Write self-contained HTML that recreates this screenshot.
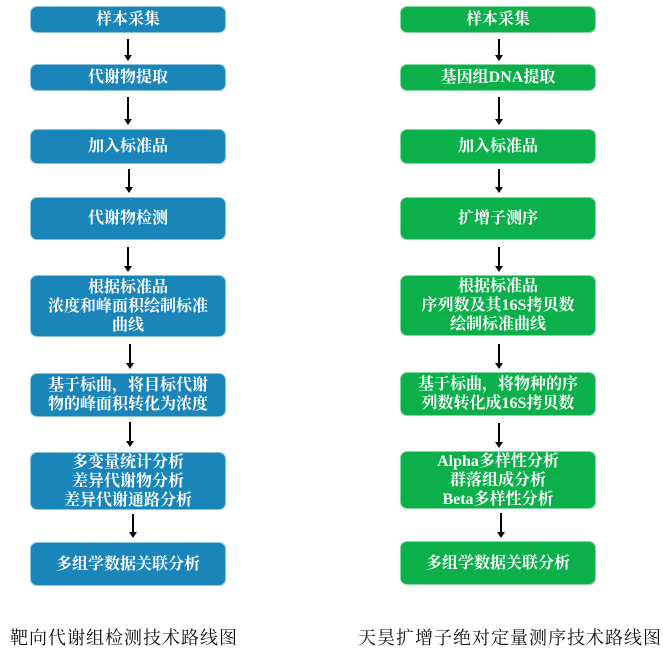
<!DOCTYPE html>
<html><head><meta charset="utf-8"><style>
body{margin:0;width:663px;height:654px;background:#fff;position:relative;overflow:hidden;font-family:"Liberation Serif","Noto Serif CJK SC",serif;}
.b{position:absolute;border-radius:7px;color:#fff;font-size:16px;line-height:19px;display:flex;align-items:center;justify-content:center;text-align:center;font-weight:bold;box-sizing:border-box;border:1px solid rgba(255,255,255,.5)}
.l{left:30px;width:196px;background:#1a85b8}
.r{left:400px;width:196px;background:#0cb04a}
.a{position:absolute;width:2px;background:#000}
.a:after{content:"";position:absolute;left:-3px;bottom:-5px;border-left:4px solid transparent;border-right:4px solid transparent;border-top:6px solid #000}
.c{position:absolute;top:624px;font-size:18px;font-family:"Liberation Serif","Noto Serif CJK SC",serif;color:#111;letter-spacing:1px}
</style></head><body>
<div class="b l" style="top:6px;height:27px">样本采集</div>
<div class="b l" style="top:64px;height:27px">代谢物提取</div>
<div class="b l" style="top:129px;height:35px">加入标准品</div>
<div class="b l" style="top:197px;height:43px">代谢物检测</div>
<div class="b l" style="top:275px;height:62px">根据标准品<br>浓度和峰面积绘制标准<br>曲线</div>
<div class="b l" style="top:373px;height:44px">基于标曲，将目标代谢<br>物的峰面积转化为浓度</div>
<div class="b l" style="top:452px;height:58px">多变量统计分析<br>差异代谢物分析<br>差异代谢通路分析</div>
<div class="b l" style="top:542px;height:44px">多组学数据关联分析</div>

<div class="b r" style="top:6px;height:27px">样本采集</div>
<div class="b r" style="top:64px;height:27px">基因组DNA提取</div>
<div class="b r" style="top:129px;height:35px">加入标准品</div>
<div class="b r" style="top:197px;height:43px">扩增子测序</div>
<div class="b r" style="top:275px;height:61px">根据标准品<br>序列数及其16S拷贝数<br>绘制标准曲线</div>
<div class="b r" style="top:372px;height:44px">基于标曲，将物种的序<br>列数转化成16S拷贝数</div>
<div class="b r" style="top:451px;height:58px">Alpha多样性分析<br>群落组成分析<br>Beta多样性分析</div>
<div class="b r" style="top:541px;height:44px">多组学数据关联分析</div>

<div class="a" style="left:127px;top:39px;height:17px"></div>
<div class="a" style="left:127px;top:97px;height:23px"></div>
<div class="a" style="left:128px;top:169px;height:19px"></div>
<div class="a" style="left:127px;top:247px;height:20px"></div>
<div class="a" style="left:129px;top:344px;height:20px"></div>
<div class="a" style="left:129px;top:422px;height:20px"></div>
<div class="a" style="left:132px;top:514px;height:19px"></div>

<div class="a" style="left:498px;top:39px;height:17px"></div>
<div class="a" style="left:498px;top:97px;height:23px"></div>
<div class="a" style="left:498px;top:169px;height:19px"></div>
<div class="a" style="left:498px;top:247px;height:20px"></div>
<div class="a" style="left:498px;top:344px;height:20px"></div>
<div class="a" style="left:498px;top:423px;height:20px"></div>
<div class="a" style="left:500px;top:513px;height:20px"></div>

<div class="c" style="left:10px">靶向代谢组检测技术路线图</div>
<div class="c" style="left:358px">天昊扩增子绝对定量测序技术路线图</div>
</body></html>
